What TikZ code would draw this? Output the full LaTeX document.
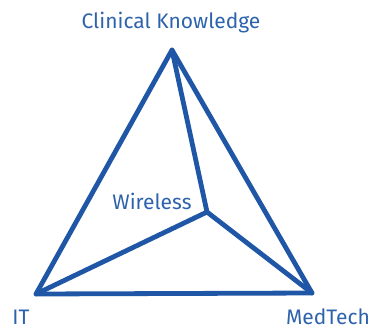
\documentclass[tikz,border=0pt]{standalone}
\usepackage{fontspec}
\setmainfont{Fira Sans}
\definecolor{lineblue}{HTML}{1F56A6}
\definecolor{textblue}{HTML}{2D62AC}
\begin{document}
\begin{tikzpicture}[x=1pt,y=-1pt,
  edge/.style={draw=lineblue,line width=4.8pt,line join=round,line cap=round},
  lbl/.style={text=textblue,font=\fontsize{21}{24}\selectfont,inner sep=0pt}]
\useasboundingbox (0,0) rectangle (372,330);
\coordinate (top) at (172,50);
\coordinate (bl) at (36,294);
\coordinate (br) at (312,293);
\coordinate (in) at (207,212);
\draw[edge] (top) -- (bl) -- (br) -- cycle;
\draw[edge] (top) -- (in);
\draw[edge] (bl) -- (in);
\draw[edge] (br) -- (in);
\node[lbl] (ck) at (171,23) {Clinical Knowledge};
\node[lbl] (wl) at (152,201) {Wireless};
\node[lbl] (it) at (21,317) {IT};
\node[lbl] (mt) at (328,317) {MedTech};
\end{tikzpicture}
\end{document}
